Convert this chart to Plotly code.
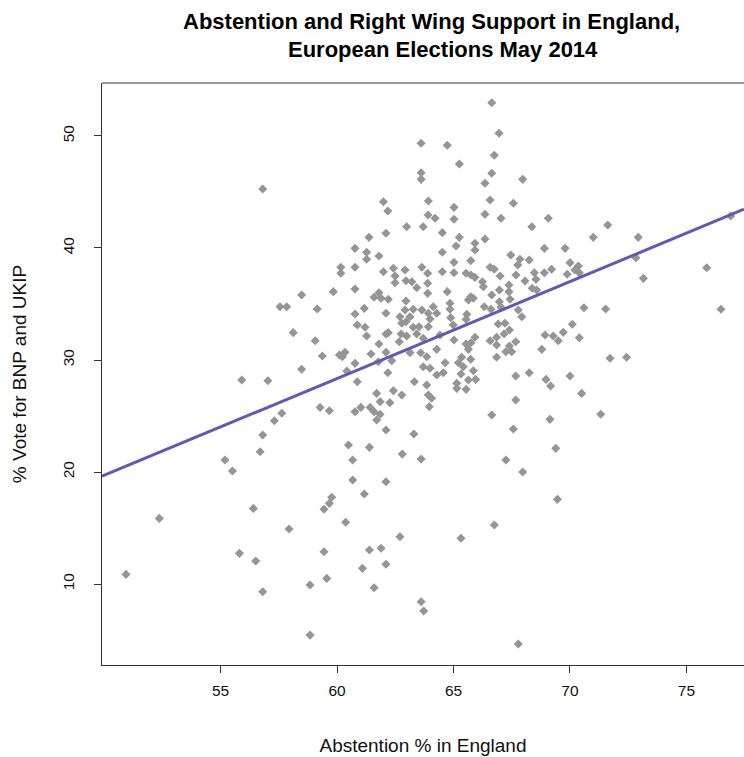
import plotly.graph_objects as go

# Abstention % (x) and % vote for BNP+UKIP (y)
abstention = [
    63.61, 63.61, 63.61, 61.99, 62.18, 63.92, 63.91, 66.64, 66.95, 64.73,
    66.75, 65.25, 66.64, 66.35, 67.97, 66.57, 67.57, 65.02, 66.35, 67.04,
    69.07, 65.02, 64.21, 62.99, 63.70, 61.37, 62.10, 60.77, 61.27, 61.27,
    61.80, 60.16, 60.16, 60.77, 61.99, 62.42, 62.92, 62.49, 62.49, 62.96,
    63.21, 63.64, 63.89, 63.42, 63.89, 58.48, 59.84, 60.77, 61.80, 61.59,
    61.89, 62.20, 62.96, 63.89, 59.15, 60.77, 61.17, 62.10, 62.92, 63.27,
    62.70, 63.64, 63.13, 63.92, 68.36, 64.52, 65.25, 66.35, 65.92, 65.11,
    65.92, 68.90, 64.52, 67.46, 67.85, 68.25, 65.74, 65.02, 67.76, 66.57,
    66.75, 69.21, 64.52, 65.02, 65.54, 65.75, 65.92, 67.00, 67.68, 68.47,
    68.90, 68.54, 68.07, 66.24, 66.28, 67.38, 68.38, 68.57, 64.73, 66.97,
    67.38, 66.64, 67.43, 65.74, 65.64, 65.85, 64.85, 64.13, 66.97, 66.32,
    66.61, 67.04, 67.78, 64.85, 64.28, 65.57, 64.88, 63.99, 65.54, 67.93,
    60.87, 61.20, 62.20, 62.10, 61.27, 62.75, 62.99, 63.27, 63.52, 62.78,
    62.96, 59.06, 61.80, 62.67, 63.42, 63.70, 63.92, 59.37, 60.10, 60.34,
    60.23, 61.46, 62.10, 63.13, 63.59, 63.85, 60.77, 62.35, 61.77, 58.48,
    60.42, 62.18, 63.70, 60.87, 63.32, 63.85, 61.70, 62.42, 62.78, 63.92,
    61.85, 62.27, 59.27, 59.67, 60.77, 61.02, 61.42, 61.59, 61.85, 63.96,
    64.99, 66.92, 67.21, 67.40, 67.17, 66.85, 65.92, 65.02, 64.42, 66.57,
    67.67, 68.93, 69.28, 69.50, 65.54, 65.75, 66.85, 67.40, 64.28, 65.64,
    67.25, 67.50, 68.79, 65.35, 66.85, 65.74, 64.64, 65.21, 65.42, 63.99,
    65.85, 64.56, 64.28, 65.32, 67.67, 68.25, 65.14, 65.64, 65.95, 68.97,
    65.14, 65.54, 69.17, 64.06, 67.67, 66.64, 69.14, 76.90, 71.62, 71.00,
    72.93, 69.79, 70.00, 70.36, 70.21, 70.40, 69.88, 72.83, 75.87, 73.15,
    70.60, 71.53, 76.48, 70.10, 69.71, 70.40, 71.72, 72.43, 70.00, 56.81,
    57.55, 57.84, 58.12, 55.91, 57.03, 57.63, 57.31, 56.81, 56.70, 55.19,
    55.51, 52.37, 56.41, 50.94, 55.81, 56.51, 56.81, 57.94, 59.44, 59.67,
    59.44, 59.56, 58.84, 58.84, 61.70, 62.10, 63.30, 60.49, 61.39, 62.80,
    63.61, 60.67, 60.67, 62.10, 61.17, 59.77, 60.37, 62.70, 61.39, 61.89,
    62.10, 61.09, 61.59, 63.61, 63.72, 65.32, 66.75, 67.57, 67.25, 67.97,
    69.39, 69.46, 67.78, 70.50, 71.32,
]

right_wing_vote = [
    49.35, 46.72, 46.13, 44.13, 43.30, 44.20, 42.95, 52.97, 50.24, 49.17,
    48.28, 47.50, 46.67, 45.78, 46.13, 44.29, 43.99, 43.63, 43.01, 42.65,
    42.65, 42.56, 42.65, 41.90, 41.90, 40.95, 41.31, 39.97, 39.62, 38.99,
    39.28, 38.28, 37.74, 38.28, 37.88, 38.19, 38.04, 37.50, 36.90, 37.08,
    36.99, 38.28, 37.74, 36.45, 36.85, 35.80, 36.10, 36.34, 36.01, 35.60,
    35.51, 35.42, 35.27, 35.95, 34.55, 34.11, 34.61, 34.17, 34.46, 34.53,
    33.86, 34.46, 33.86, 34.17, 41.90, 41.37, 40.95, 40.80, 40.42, 40.18,
    39.82, 39.97, 39.62, 39.37, 38.99, 38.93, 38.87, 38.72, 38.48, 38.28,
    38.10, 38.10, 37.88, 37.79, 37.74, 37.59, 37.38, 37.50, 37.59, 37.79,
    37.79, 37.20, 37.05, 36.99, 36.54, 36.70, 36.40, 36.25, 36.10, 36.25,
    36.10, 35.80, 35.42, 35.65, 35.36, 35.51, 35.06, 34.76, 35.20, 34.76,
    34.53, 34.70, 34.46, 34.53, 34.17, 34.08, 33.78, 33.66, 33.63, 33.86,
    33.12, 32.92, 32.44, 32.32, 32.14, 32.32, 32.14, 32.92, 32.97, 33.28,
    33.42, 31.72, 31.43, 31.63, 32.32, 31.94, 32.97, 30.36, 30.44, 30.69,
    30.29, 30.53, 30.69, 30.65, 30.65, 30.29, 29.70, 29.94, 29.85, 29.17,
    29.02, 28.86, 29.40, 28.06, 28.06, 27.77, 27.02, 27.26, 26.87, 26.87,
    26.28, 26.19, 25.77, 25.47, 25.38, 25.77, 25.77, 25.38, 25.15, 25.83,
    33.12, 33.21, 33.28, 32.68, 32.32, 32.03, 32.03, 31.78, 32.23, 31.72,
    31.63, 32.23, 32.14, 31.72, 31.43, 31.54, 31.34, 31.25, 30.95, 30.95,
    30.74, 30.74, 30.95, 30.24, 30.24, 30.06, 29.76, 29.76, 29.40, 29.26,
    29.04, 28.86, 28.66, 28.75, 28.57, 28.86, 27.92, 28.21, 28.27, 28.27,
    27.47, 27.38, 27.68, 26.58, 26.43, 25.09, 24.70, 42.86, 42.05, 40.95,
    40.95, 39.97, 38.69, 38.39, 38.04, 37.79, 37.65, 39.13, 38.24, 37.29,
    34.67, 34.55, 34.53, 33.19, 32.47, 31.99, 30.15, 30.24, 28.57, 45.27,
    34.76, 34.76, 32.44, 28.21, 28.15, 25.24, 24.58, 23.30, 21.81, 21.07,
    20.09, 15.86, 16.75, 10.86, 12.74, 12.05, 9.31, 14.91, 16.67, 17.20,
    12.88, 10.50, 9.91, 5.44, 24.64, 23.75, 23.39, 22.41, 22.20, 21.60,
    21.16, 21.07, 19.29, 19.13, 18.03, 17.74, 15.51, 14.22, 13.04, 13.19,
    11.76, 11.40, 9.67, 8.42, 7.59, 14.08, 15.27, 23.84, 21.07, 20.00,
    22.11, 17.56, 4.64, 27.02, 25.15,
]

# Linear fit (abline)
fit_intercept = -23.55
fit_slope = 0.865

x_ticks = [55, 60, 65, 70, 75]
y_ticks = [10, 20, 30, 40, 50]
x_range = [49.91, 77.47]
y_range = [2.77, 54.73]

title_line1 = "<b>Abstention and Right Wing Support in England,</b>"
title_line2 = "<b>European Elections May 2014</b>"
x_title = "Abstention % in England"
y_title = "% Vote for BNP and UKIP"

FONT = "Liberation Sans, Arial, Helvetica, sans-serif"
W, H = 744, 757
L, R, T, B = 102, 0, 83, 92
PW, PH = W - L - R, H - T - B

fig = go.Figure()
fig.add_trace(go.Scatter(
    x=abstention, y=right_wing_vote, mode="markers",
    marker=dict(symbol="diamond", size=7, color="#959595", line=dict(width=0)),
    showlegend=False, hoverinfo="x+y",
))
fig.add_trace(go.Scatter(
    x=x_range, y=[fit_intercept + fit_slope * v for v in x_range],
    mode="lines", line=dict(color="#6159b3", width=3),
    showlegend=False, hoverinfo="skip",
))

fig.update_layout(
    width=W, height=H,
    margin=dict(l=L, r=R, t=T, b=B, autoexpand=False),
    paper_bgcolor="white", plot_bgcolor="white",
    font=dict(family=FONT, size=15.5, color="#111"),
    xaxis=dict(range=x_range, tickvals=x_ticks, ticks="outside", ticklen=7,
               tickcolor="#333", showline=True, linecolor="#333", linewidth=1,
               showgrid=False, zeroline=False, ticklabelstandoff=4,
               title=dict(text=x_title, standoff=41),
               tickfont=dict(size=15.5)),
    yaxis=dict(range=y_range, tickvals=y_ticks, ticks="outside", ticklen=7,
               tickcolor="#333", showline=True, linecolor="#333", linewidth=1,
               showgrid=False, zeroline=False, tickangle=-90, ticklabelstandoff=14,
               title=dict(text=y_title, standoff=28),
               tickfont=dict(size=15.5)),
    shapes=[dict(type="line", xref="paper", yref="paper", x0=0, x1=1, y0=1, y1=1,
                 line=dict(color="#333", width=1))],
    annotations=[
        dict(text=title_line1, xref="paper", yref="paper",
             x=(432 - L) / PW, y=1 + (T - 22) / PH, xanchor="center", yanchor="middle",
             showarrow=False, font=dict(family=FONT, size=22, color="#000")),
        dict(text=title_line2, xref="paper", yref="paper",
             x=(443 - L) / PW, y=1 + (T - 50) / PH, xanchor="center", yanchor="middle",
             showarrow=False, font=dict(family=FONT, size=22, color="#000")),
    ],
)

fig.write_html("out.html", config={"displayModeBar": False},
               post_script="document.body.style.margin='0px';")
